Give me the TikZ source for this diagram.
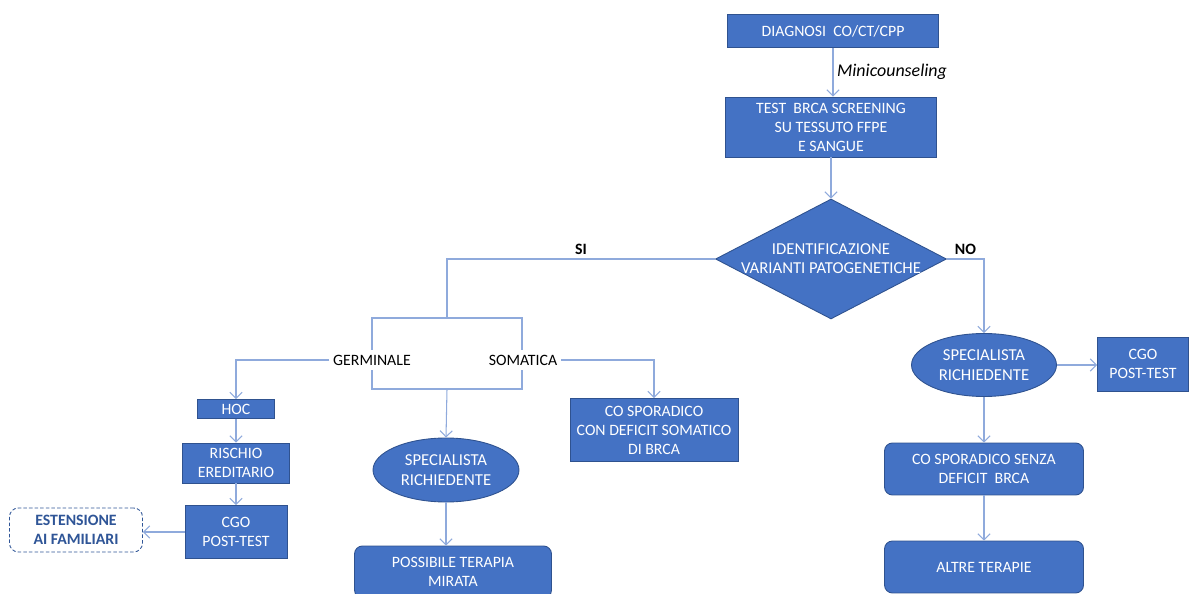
\documentclass[tikz,border=0pt]{standalone}
\usepackage{fontspec}
\setmainfont{Carlito}
\usetikzlibrary{shapes.geometric,arrows.meta}
\definecolor{bluscatola}{HTML}{4472C4}
\definecolor{bordoblu}{HTML}{2F528F}
\definecolor{bluchiaro}{HTML}{8FAADC}
\definecolor{bluscuro}{HTML}{2F5597}
\tikzset{
    testo/.style={font=\fontsize{9}{10.8}\selectfont},
    blocco/.style={testo, draw=bordoblu, fill=bluscatola, text=white, align=center, inner sep=0pt, line width=0.5pt},
    arrotondato/.style={blocco, rounded corners=4.5pt},
    ovale/.style={blocco, ellipse, font=\fontsize{9.5}{11.4}\selectfont},
    rombo/.style={blocco, diamond},
    tratteggio/.style={font=\fontsize{9}{10.8}\selectfont\bfseries, draw=bluscuro, text=bluscuro, fill=white, dash pattern=on 2pt off 1.2pt, rounded corners=5pt, align=center, line width=0.5pt},
    scritta/.style={testo, text=black, inner sep=2pt},
    linea/.style={draw=bluchiaro, line width=0.6pt},
    freccia/.style={linea, -{Straight Barb[length=3.5pt,width=7pt]}},
  }

\begin{document}
\begin{tikzpicture}[x=0.02cm, y=-0.02cm]
  \useasboundingbox (0,0) rectangle (1190,594);
  \clip (0,0) rectangle (1190,594);

  %DIAGNOSI e TEST
  \node[blocco, minimum width=4.22cm, minimum height=0.66cm] (diagnosi) at (833,31) {DIAGNOSI\ \ CO/CT/CPP};
  \node[blocco, minimum width=4.22cm, minimum height=1.2cm] (test) at (831,127) {TEST\ \ BRCA SCREENING\\SU TESSUTO FFPE\\E SANGUE};
  \draw[freccia] (diagnosi.south) -- (diagnosi.south |- test.north)
      node[midway, right, scritta, font=\fontsize{10.2}{12}\selectfont\itshape] (mini) {Minicounseling};

  %ROMBO
  \node[rombo, minimum width=4.62cm, minimum height=2.4cm] (ident) at (831,259) {};
  \node[font=\fontsize{9.5}{10.8}\selectfont, text=white, align=center] (identtesto) at (ident) {IDENTIFICAZIONE\\VARIANTI PATOGENETICHE};
  \draw[freccia] (test.south) -- (ident.north);

  %SI : staffa GERMINALE / SOMATICA
  \coordinate (staffaN) at (447,318);
  \coordinate (staffaS) at (447,389);
  \coordinate (staffaNO) at (372,318);
  \coordinate (staffaSE) at (522,389);
  \draw[linea] (ident.west) -| node[pos=0.25, above, scritta, font=\fontsize{9}{10.8}\selectfont\bfseries] (si) {SI} (staffaN);
  \draw[linea] (staffaNO) rectangle (staffaSE);
  \node[scritta, fill=white, inner ysep=3pt] (germinale) at (372,360) {GERMINALE};
  \node[scritta, fill=white, inner ysep=3pt] (somatica) at (523,360) {SOMATICA};

  %GERMINALE
  \node[blocco, minimum width=1.54cm, minimum height=0.38cm] (hoc) at (236,409) {HOC};
  \node[blocco, minimum width=2.14cm, minimum height=0.8cm] (rischio) at (236,463) {RISCHIO\\EREDITARIO};
  \node[blocco, minimum width=2.04cm, minimum height=1.06cm] (cgo) at (236,532) {CGO\\POST-TEST};
  \node[tratteggio, minimum width=2.66cm, minimum height=0.88cm] (estensione) at (76,530) {ESTENSIONE\\AI FAMILIARI};
  \draw[freccia] (germinale.west) -| (hoc.north);
  \draw[freccia] (hoc.south) -- (rischio.north);
  \draw[freccia] (rischio.south) -- (cgo.north);
  \draw[freccia] (cgo.west) -- (cgo.west -| estensione.east);

  %SOMATICA
  \node[ovale, minimum width=2.92cm, minimum height=1.28cm] (specialista) at (446,470) {SPECIALISTA\\RICHIEDENTE};
  \node[arrotondato, minimum width=3.94cm, minimum height=1.04cm] (mirata) at (453,572) {POSSIBILE TERAPIA\\MIRATA};
  \node[blocco, minimum width=3.36cm, minimum height=1.26cm] (sporadico) at (654,430) {CO SPORADICO\\CON DEFICIT SOMATICO\\DI BRCA};
  \draw[freccia] (staffaS) -- (specialista.north);
  \draw[freccia] (specialista.south) -- (specialista.south |- mirata.north);
  \draw[freccia] (somatica.east) -| (sporadico.north);

  %NO
  \node[ovale, minimum width=2.9cm, minimum height=1.26cm] (specialistaNO) at (984,365) {SPECIALISTA\\RICHIEDENTE};
  \node[blocco, minimum width=1.82cm, minimum height=1.08cm] (cgoNO) at (1143,364) {CGO\\POST-TEST};
  \node[arrotondato, minimum width=3.98cm, minimum height=1.04cm] (senza) at (984,469) {CO SPORADICO SENZA\\DEFICIT\ \ BRCA};
  \node[arrotondato, minimum width=3.98cm, minimum height=1.04cm] (altre) at (984,567) {ALTRE TERAPIE};
  \draw[freccia] (ident.east) -| node[pos=0.25, above, scritta, font=\fontsize{9}{10.8}\selectfont\bfseries] (no) {NO} (specialistaNO.north);
  \draw[freccia] (specialistaNO.east) -- (specialistaNO.east -| cgoNO.west);
  \draw[freccia] (specialistaNO.south) -- (senza.north);
  \draw[freccia] (senza.south) -- (altre.north);
\end{tikzpicture}
\end{document}
